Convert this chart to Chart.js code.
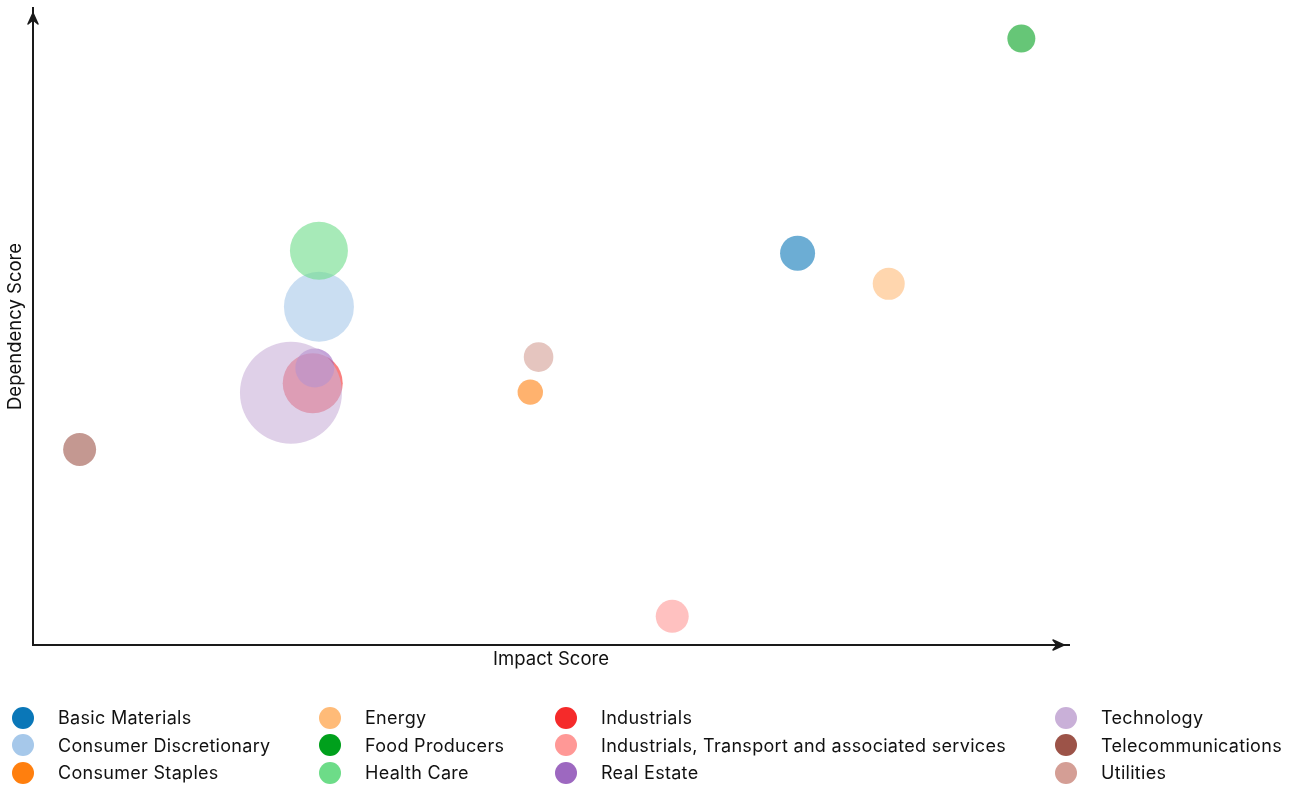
<!DOCTYPE html>
<html>
<head>
<meta charset="utf-8">
<script src="https://cdn.jsdelivr.net/npm/chart.js@4.4.1/dist/chart.umd.min.js"></script>
<style>
    html, body { margin: 0; padding: 0; background: #fff; }
    #wrap { position: relative; width: 1294px; height: 785px; }
    #legend {
        position: absolute; left: 12px; top: 704px;
        display: grid;
        grid-template-rows: repeat(3, 27.5px);
        grid-template-columns: 307px 236px 500px 230px;
        grid-auto-flow: column;
        font-family: Inter, "Noto Sans", sans-serif; font-size: 18px; color: #111;
    }
    .item { display: flex; align-items: center; white-space: nowrap; letter-spacing: 0.3px; }
    .dot { width: 22px; height: 22px; border-radius: 50%; margin-right: 24px; flex: none; }
</style>
</head>
<body>
<div id="wrap">
    <canvas id="myBubbleChart" width="1294" height="785"></canvas>
    <div id="legend"></div>
</div>
<script>
// sectors, values (axes have no ticks, scale 0-100)
const sectors = ['Basic Materials', 'Consumer Discretionary', 'Consumer Staples', 'Energy',
    'Food Producers', 'Health Care', 'Industrials', 'Industrials, Transport and associated services',
    'Real Estate', 'Technology', 'Telecommunications', 'Utilities'];
const impactScore = [73.8, 27.6, 48.0, 82.6, 95.4, 27.6, 27.0, 61.7, 27.2, 24.9, 4.5, 48.8];
const dependencyScore = [61.5, 53.1, 39.7, 56.7, 95.2, 61.9, 41.1, 4.5, 43.5, 39.6, 30.7, 45.2];
const bubbleSize = [17.5, 35, 12.7, 16, 14, 29, 30, 16.5, 19.5, 51, 16.5, 14.8];
const colors = ['#0a77b8', '#a6c8ea', '#ff7f0e', '#ffbb78', '#00a01c', '#6ddc88',
    '#f52a2a', '#ff9896', '#9d68c0', '#c9b0d8', '#9c5348', '#d49e95'];

function withAlpha(hex, a) {
    const n = parseInt(hex.slice(1), 16);
    return `rgba(${n >> 16}, ${(n >> 8) & 255}, ${n & 255}, ${a})`;
}

// arrow heads at the ends of both axes
const axisArrows = {
    id: 'axisArrows',
    afterDraw(chart) {
        const {ctx, chartArea} = chart;
        const head = (x, y, dx, dy) => {
            // dx, dy = direction the arrow points
            const px = -dy, py = dx;
            ctx.beginPath();
            ctx.moveTo(x, y);
            ctx.lineTo(x - dx * 11 + px * 5, y - dy * 11 + py * 5);
            ctx.lineTo(x - dx * 7, y - dy * 7);
            ctx.lineTo(x - dx * 11 - px * 5, y - dy * 11 - py * 5);
            ctx.closePath();
            ctx.fill();
            ctx.stroke();
        };
        ctx.save();
        ctx.fillStyle = '#1a1a1a';
        ctx.strokeStyle = '#1a1a1a';
        ctx.lineWidth = 1.5;
        ctx.lineJoin = 'round';
        head(chartArea.right - 5, chartArea.bottom, 1, 0);
        head(chartArea.left, chartArea.top + 5, 0, -1);
        ctx.restore();
    }
};

const titleFont = { family: 'Inter, "Noto Sans", sans-serif', size: 18.5 };

const config = {
    type: 'bubble',
    data: {
        datasets: sectors.map((name, i) => ({
            label: name,
            data: [{ x: impactScore[i], y: dependencyScore[i], r: bubbleSize[i] }],
            backgroundColor: withAlpha(colors[i], 0.6),
            borderWidth: 0,
            hoverBorderWidth: 0,
            order: -i
        }))
    },
    options: {
        responsive: false,
        animation: false,
        layout: { autoPadding: false, padding: { left: 0, right: 225, top: 8, bottom: 114.9 } },
        plugins: { legend: { display: false }, tooltip: { enabled: false } },
        scales: {
            x: {
                min: 0, max: 100,
                ticks: { display: false },
                grid: { display: false, drawTicks: false },
                border: { display: true, color: '#1a1a1a', width: 2 },
                title: { display: true, text: 'Impact Score', color: '#111', font: titleFont, padding: { top: 2.9, bottom: 0 } }
            },
            y: {
                min: 0, max: 100,
                ticks: { display: false },
                grid: { display: false, drawTicks: false },
                border: { display: true, color: '#1a1a1a', width: 2 },
                title: { display: true, text: 'Dependency Score', color: '#111', font: titleFont, padding: { top: 3.9, bottom: 6.9 } }
            }
        }
    },
    plugins: [axisArrows]
};
new Chart(document.querySelector('#myBubbleChart'), config);

const legend = document.querySelector('#legend');
sectors.forEach((name, i) => {
    const item = document.createElement('div');
    item.className = 'item';
    item.innerHTML = `<span class="dot" style="background:${colors[i]}"></span><span>${name}</span>`;
    legend.appendChild(item);
});
</script>
</body>
</html>
